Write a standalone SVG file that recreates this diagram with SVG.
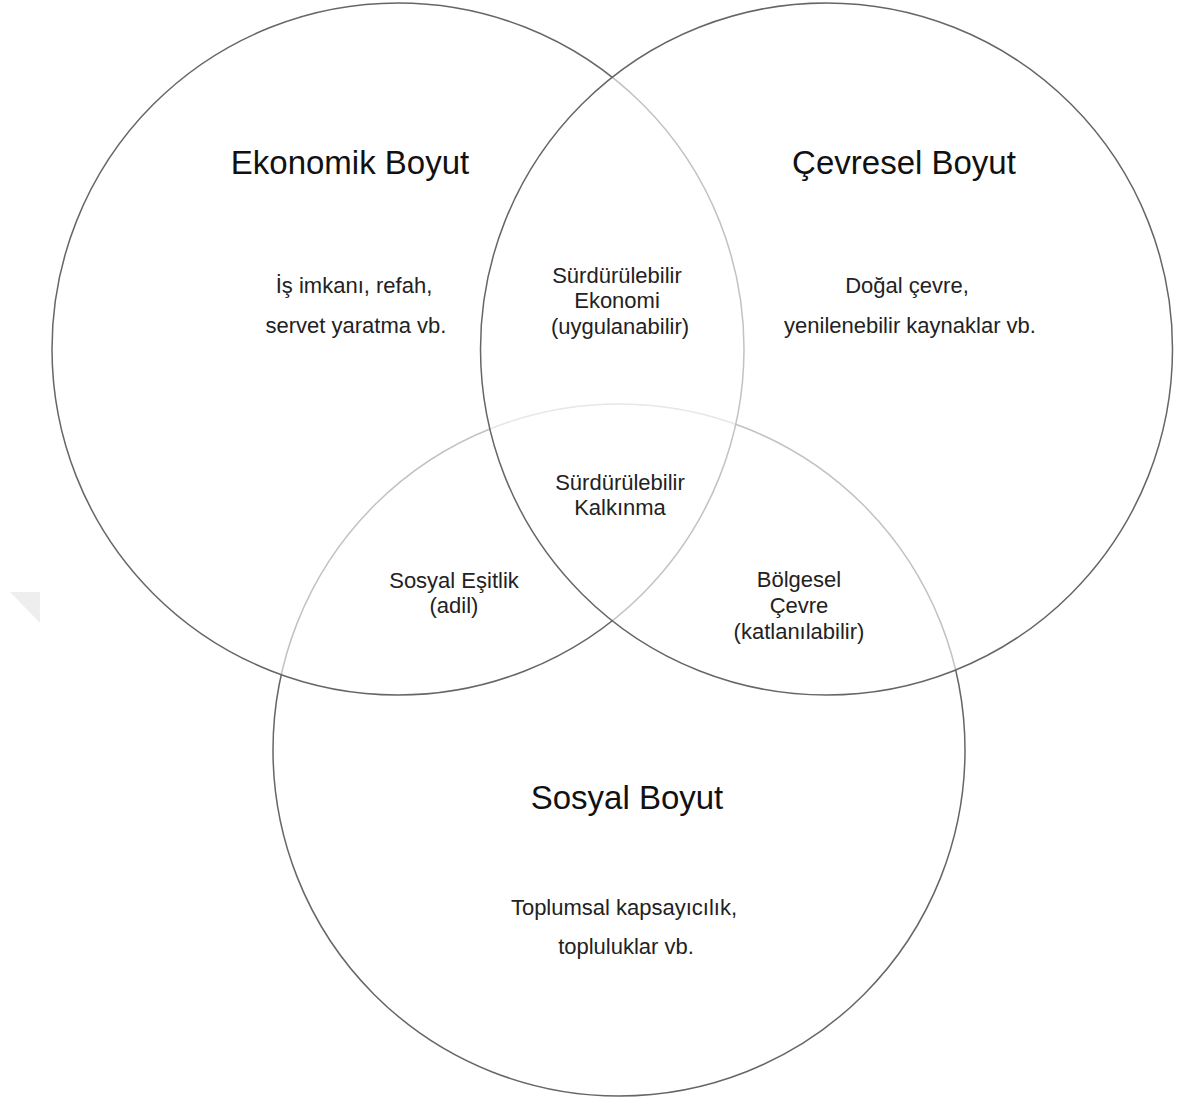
<svg xmlns="http://www.w3.org/2000/svg" width="1185" height="1101" viewBox="0 0 1185 1101">
<style>
.c{fill:#fff;fill-opacity:0.6;stroke:#666;stroke-width:1.5}
.h{font-family:"Liberation Sans",Arial,sans-serif;font-size:33px;fill:#111;text-anchor:middle}
.t{font-family:"Liberation Sans",Arial,sans-serif;font-size:22px;fill:#222;text-anchor:middle}
</style>
<rect width="1185" height="1101" fill="#fff"/>
<polygon points="10,592 40,592 40,623" fill="#eeeeee"/>
<g id="sosyal">
<circle class="c" cx="619" cy="750" r="346"/>
</g>
<g id="ekonomik">
<circle class="c" cx="398" cy="349" r="346"/>
</g>
<g id="cevresel">
<circle class="c" cx="826.5" cy="349" r="346"/>
</g>
<g id="connectors"></g>
<g id="labels-ekonomik">
<text class="h" x="350" y="174">Ekonomik Boyut</text>
<text class="t" x="354" y="293">İş imkanı, refah,</text>
<text class="t" x="356" y="333">servet yaratma vb.</text>
</g>
<g id="labels-cevresel">
<text class="h" x="904" y="174">Çevresel Boyut</text>
<text class="t" x="907" y="293">Doğal çevre,</text>
<text class="t" x="910" y="333">yenilenebilir kaynaklar vb.</text>
</g>
<g id="labels-sosyal">
<text class="h" x="627" y="809">Sosyal Boyut</text>
<text class="t" x="624" y="915">Toplumsal kapsayıcılık,</text>
<text class="t" x="626" y="954">topluluklar vb.</text>
</g>
<g id="labels-ekonomi">
<text class="t" x="617" y="283">Sürdürülebilir</text>
<text class="t" x="617" y="308">Ekonomi</text>
<text class="t" x="620" y="334">(uygulanabilir)</text>
</g>
<g id="labels-kalkinma">
<text class="t" x="620" y="490">Sürdürülebilir</text>
<text class="t" x="620" y="515">Kalkınma</text>
</g>
<g id="labels-esitlik">
<text class="t" x="454" y="588">Sosyal Eşitlik</text>
<text class="t" x="454" y="613">(adil)</text>
</g>
<g id="labels-bolgesel">
<text class="t" x="799" y="587">Bölgesel</text>
<text class="t" x="799" y="613">Çevre</text>
<text class="t" x="799" y="639">(katlanılabilir)</text>
</g>
</svg>
